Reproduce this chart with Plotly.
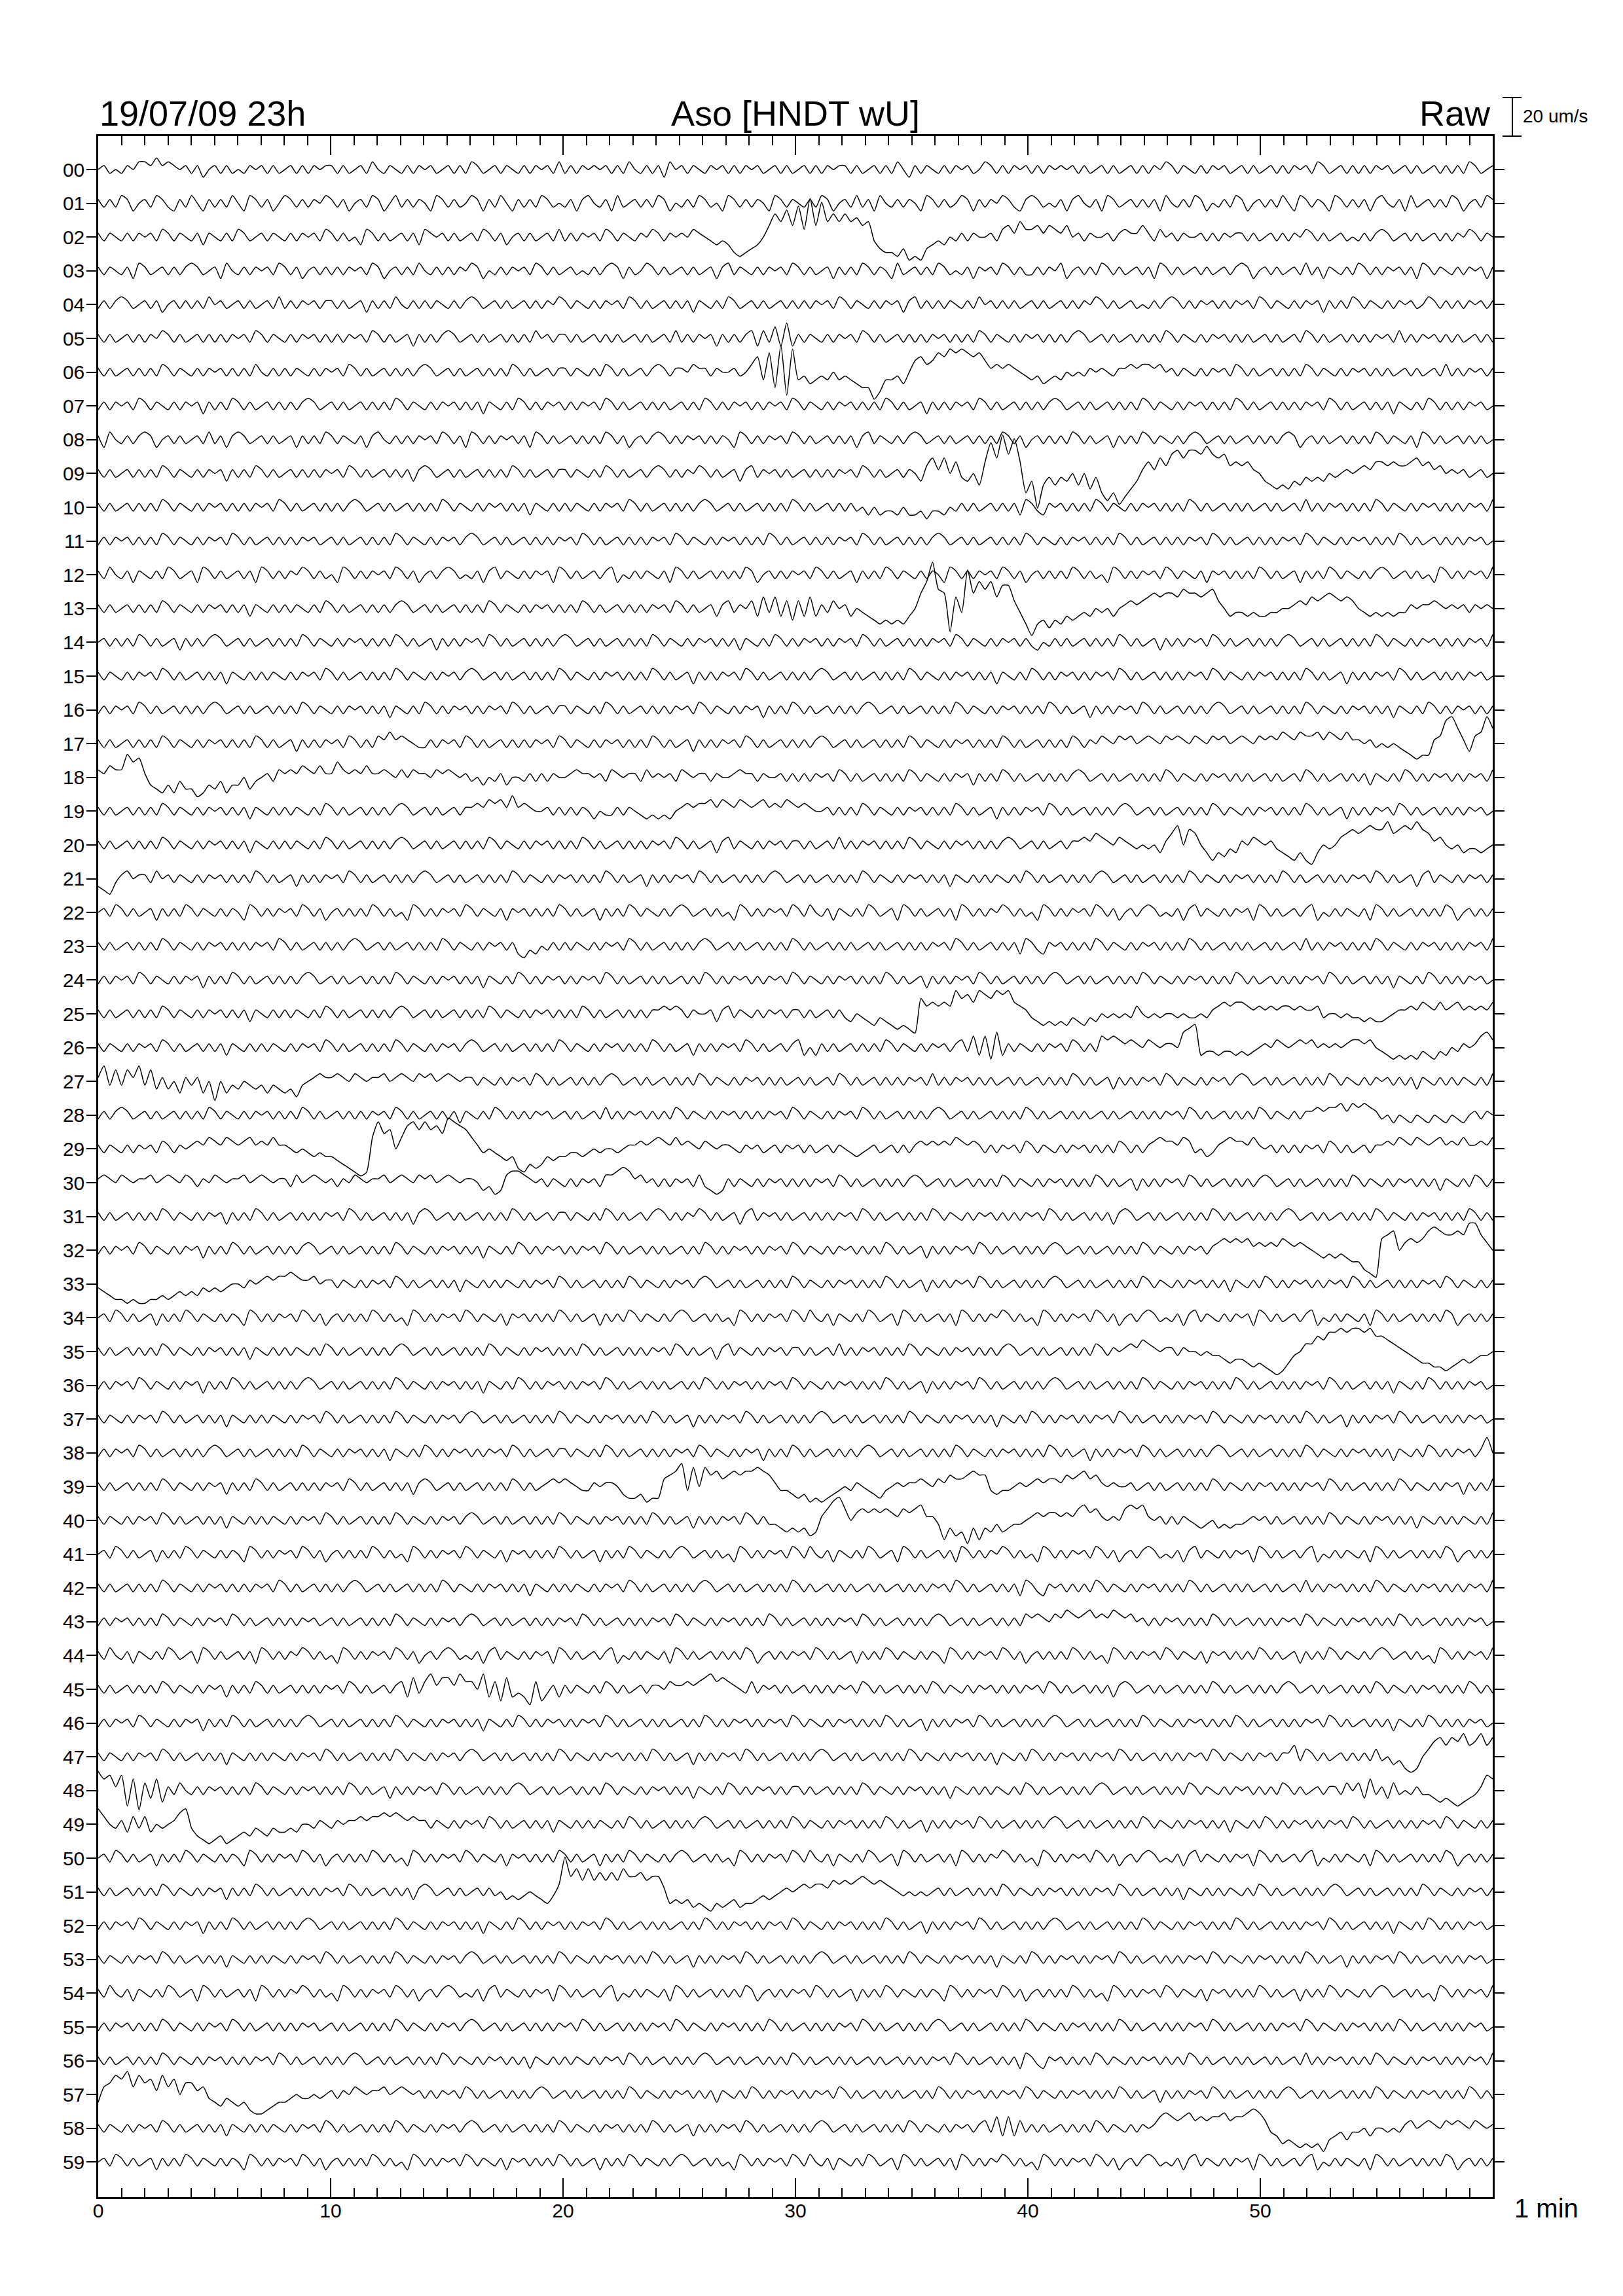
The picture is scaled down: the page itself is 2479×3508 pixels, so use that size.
import plotly.graph_objects as go

# ---------------- data ----------------
# One helicorder row per minute-of-hour (00..59); x runs over 60 minutes.
# Each row: 60 groups (one per minute) of 4 readings (every 15 s).
# Letter code: 'm' = row zero line, each letter step = STEP_UM um/s (n=+1, l=-1, o=+2, k=-2, ...)
STEP_UM = 2.0
SCALE_UM = 20
ROW_LABELS = [f"{i:02d}" for i in range(60)]
X_TICKS = [0, 10, 20, 30, 40, 50]

T00 = ("mnlm lnmo onpn onmn lnkm nlnl mlnm nlnl mnln lnmn",
       "nlnl mnlo mlnm lnln mnlm nlnl onlm nlnm lnln mnlo",
       "lnln mnmn lnlo mlnl nkom nlnm lnmn lnln mnlm nlnl",
       "mnln lnmn nlnl mnln lomk nlnm lnln mnlm onln lnmn",
       "lnln mnmn lnlm nlnl mnln lnmo nlnm lnln mnlm nlnl",
       "mnln lnmn lonl mnln lnln mnlm nlnl mnln lnlo nlmn")
T01 = ("nlnl onkm nlon lknl omkn lnlo mkon lnkm onln lnmo",
       "nlnk mnlo nkmo lnln mkon lnlm onkn lomk nlnl onlm",
       "lnkn omln kolm nlnl onkm lnlo nlmk onln lnmk onln",
       "mlnl onkm nlol nkom lnln mkon lnlm onkn lnmo nlkn",
       "onlm lnkn omln konl mnln lnko mlnl onkm lnlo nkmn",
       "lnlo mkon lnmk onln lnkn omln kolm nlnl onkm nlon")
T02 = ("nlnm lnln mnlo nlnm lnkn mlnl onlm nlnm lnln mnlo",
       "nlnl mkon lnlm nlnk onmn lnlm nlon lnkm nlnl mnlo",
       "lnln mnlo nlnm lnmo nlnm nmon mlkl kihi jkmp sqtp",
       "uowp vqsq sqrp qlji ihjg hgjk lkml nlnm mnlo pnqo",
       "opnp onpm nlnm mnln onnp nlom nlnm mnln lnmn nlnl",
       "mnln lnmo nlnl mnlm lnln onlm nlnl mnln lnmo nlnm")
T03 = ("nlnm lnko nlmn lnln onlm nkom lnln mnlo nlnk mnln",
       "lnln mnlo nkmn lnlo mlnl nlnm onkm lnln mnlo nlnl",
       "mnlm lnln onkn lmon lnlm nlnl mnkn olnm lnln mnlo",
       "nlnl mnkn lnlo nlnm kolm nlnl onlm lnkn mnlo nlnl",
       "lnln mokm nlnl onln lmnl nkon lnlm nlnl mnln onkm",
       "nlnl mnlo lnkn mlnl onln lnmn lnko nlnm lnln mnkn")
T04 = ("lnln onlm nlnk mnln lnlo mnlm nlnl mnlo lnln mnln",
       "nlnl mnkn lnlo mlnl nlnm lnln onlm nlnl mnln lnmo",
       "nlnm lnln mnlo nlnl mnln lnkn mlnl onlm nlnl mnln",
       "lnln mnlo nlnm lnln mnkn olnl nlnm lnlo mnln lnlm",
       "nlnl mnln lnmo nlnl mnlm lnln onln lnmn lnln mnlo",
       "nlnm lnln mnkn lnlo nlnm lnln mnlm onln lnln mnln")
T05 = ("nlnl mnln lnmo nlnl mnln lnln mnlo nlnm lnln mnln",
       "lnln mnlo nlnl mnkn lnln onlm nlnl mnln lnlo mnln",
       "nlnl mnln lnlm nlnl mnlo lnln mnkn lnln okol pkqk",
       "nlnm lnln mnlo nlnl mnln lnln mnln lnlo nlnm lnln",
       "mnln lnln onlm nlnl mnln lnlo nlnm lnln mnln lnlm",
       "nlnl mnlo nlnl mnln lnln mnlo lnln mnln lnlm nlnl")
T06 = ("nlnl mnln lnlo nlnm lnln mnln lnlo mlnl nlnm lnln",
       "mnlo nlnl mnln lnln onlm nlnl mnln lnlo nlnl mnln",
       "nlnm lnlo nlnl mnln onln nmon nlnm mnlm oqkr itgs",
       "kljk lkmk lkji ifhk kljm pqop rqsr srqr pnon onml",
       "kljk lkml mlnm nmln nono onom nlnm lnln mnlo nlnl",
       "mnln lnlo nlnm lnln mnln lnlm nlnl mnlo lnln mnln")
T07 = ("lnln mnlo nlnm lnln mnkn lnlo nlnl mnln lnln onlm",
       "nlnl mnln lnlo nlnm lnln mnln lnkn mlnl onln lnmn",
       "lnln mnlo nlnl mnln lnlm nlnl onln lnmn lnln mnlo",
       "nlnm lnln mnln lnlo nlnl mnkn lnln mnlo nlnl mnln",
       "lnln onlm nlnl mnln lnlo nlnm lnln mnln lnlo nlnl",
       "mnln lnln mnlo nlnl mnln lnkn mlnl onln lnln mnlm")
T08 = ("nkom lnln onkm nlnl mnlo lnkn onlm nlnl mnkn lnlo",
       "nlnm lnkn omln lnln mnlo nlnk onln lnmn lnko nlnl",
       "mnln lnlo nlnk mnln onln lnmn lnln mkon lnln mnlo",
       "nlnl mnln lnkn olnm lnln onlm nlnl mnln lnlo nlnk",
       "mnln lnlo nlnl mnkn lnlo nlnm lnln onlm nlnl mnln",
       "lnln onkm nlnl mnln lnlo nlnm lnko nlnl mnln lnlm")
T09 = ("nlnl mnln lnlo nlnm lnln mnkn lnlo nlnl mnln lnln",
       "mnlo nlnl mnln lnkn onlm nlnl mnln lnlo nlnl mnln",
       "nlnm lnlo nlnl mnln onln lnmo nlnl mnkn olnm nlnl",
       "mnln lnln mnlo nlnl mnln mkoq nqmp lkmj puqw rvph",
       "kdjl jlkm jmil hfhe gikn pnqo rsqs srtr qrop opnm",
       "kjij ikjl klkm lmnm nonp popo opqo pnom nmnl mnlm")
T10 = ("nlnl mnln lnlo nlnm lnln mnln lnln mnlo nlnl mnln",
       "lnln onlm nlnl mnln lnlo nlnm lnln mnln lnkn mlnl",
       "nlnm lnln mnlo nlnl mnln lnln onlm nlnl mnln lnlo",
       "nlnl mnln lnlm kmkl lkmk kljl lkml nlnl mnln lnko",
       "nlkn mnln lnlo nlnm lnln mnln lnlo nlnl mnln lnlm",
       "nlnl mnlo lnln mnln lnlo nlnm lnln mnln lnln mnlo")
T11 = ("lnln mnln lnlo nlnm lnln mnlo nlnl mnln lnln mnlm",
       "nlnl mnln lnlo nlnm lnln mnln onlm nlnl mnln lnln",
       "mnlo nlnl mnln lnln mnlo nlnm lnln mnln lnlo nlnl",
       "mnln lnln mnlo nlnl mnln lnln onlm nlnl mnln lnlo",
       "nlnm lnln mnln lnlo nlnl mnln lnln mnlo nlnl mnln",
       "lnln mnlo nlnm lnln mnln lnlo nlnl mnln lnln mnlm")
T12 = ("nlom lnkn mlnl onlm nkon lnlm nlnk onln lnmo nlnl",
       "mkon lnln mnlo nlnk mnln onlm lnkn olnm lnln mnko",
       "nlnl mnln okml nlnm lnko nlnl mnln lnlo nkmn lnln",
       "mnlo nlnl mnkn lnlo nlnm lnln mkon lnln mnlo nlnk",
       "mnln lnlo nlnl mkon lnln mnlo nlnm lnkn mnln lnlo",
       "nlnl mnkn lnlo nlnm lnln onlm nlnl mkon lnln mnlo")
T13 = ("nlnl mnln lnlo nlnm lnln mnln lnkn mlnl nlnm lnlo",
       "nlnl mnln lnln onlm nlnl mnln lnlo nlnm lnln mnln",
       "lnlo nlnl mnln lnln mnlo nlnl mnkn olnm okpl pkoj",
       "okpk nlom nkml kjij ijik mqty rqgp lwqt rtps soli",
       "fijh jikj klkm lmkm nono pqpq qprq qpqr omkl lklk",
       "kllm mnon popq popo mlkl klkl lnmn nonm nmnl nmnm")
T14 = ("mnln lnlo nlnl mnkn lnln onlm nlnl mnln lnlo nlnm",
       "lnln mnln lnlo nlnl mnkn lnln mnlo nlnl mnln lnln",
       "onlm nlnl mnln lnlo nlnm lnln mnln lnkn mlnl onln",
       "lnmn lnln mnlo nlnl mnln lnln mnlo nlnm lnln mnln",
       "lkml nlnl mnln lnlo nlnl mnkn lnln mnlo nlnl mnln",
       "lnln onlm nlnl mnln lnlo nlnm lnln mnln lnln mnlo")
T15 = ("nlnm lnln mnlo nlnl mnln lnkn mlnl nlnm lnln mnlo",
       "nlnl mnln lnlo nlnm lnln mnln onlm nlnl mnln lnlo",
       "nlnm lnln mnln lnlo nlnl mnkn lnln mnlo nlnl mnln",
       "lnln onlm nlnl mnln lnlo nlnm lnln mnln lnkn mlnl",
       "onln lnmn lnln mnlo nlnl mnln lnln mnlo nlnm lnln",
       "mnln lnlo nlnl mnkn lnln mnlo nlnl mnln lnln mnlm")
T16 = ("lnln mnlo nlnl mnln lnln onlm nlnl mnln lnlo nlnm",
       "lnln mnln lnkn mlnl onln lnmn lnln mnlo nlnl mnln",
       "nlnm lnlo nlnl mnln lnln mnlo nlnm lnln mnkn lnlo",
       "nlnl mnln lnln onlm nlnl mnln lnlo nlnm lnln mnln",
       "lnlo nlnl mnkn lnln mnlo nlnl mnln lnln onlm nlnl",
       "mnln lnlo nlnm lnln mnln lnkn mlnl onln lnmn lnln")
T17 = ("nlnl mnln lnlo nlnm lnln mnln lnlo nlnl mnkn lnln",
       "mnlo nlnl onpn onml lnln mnlo nlnl mnln lnln mnlo",
       "nlnm lnln mnln lnlo nlnl mnkn lnln mnlo nlnl mnln",
       "lnln onlm nlnl mnln lnlo nlnm lnln mnln lnlo nlnl",
       "mnln lnlo nlnm onmo nomn onmo nonm onmo nomn onmo",
       "nonp onpo opnp onpn nmnl mlml kjij jnos tqnk optq")
T18 = ("onpo osqr nkji kilj jhik jlik kmjl mnlo nonp onpn",
       "nqon onpn nonm omon nmon onmn lmkm lnkm mlnl nlnm",
       "mnon nmnl onmn nlom nmnl onmn nlnm mnon nlnm mnln",
       "lnln mnlo nlnl mnln lnlo nlnm lnln mnkn lnlo nlnl",
       "mnln lnln onlm nlnl mnln lnlo nlnm lnln mnln lnlm",
       "nlnl mnlo nlnl mnln lnkn mlnl onln lnmn lnln mnlo")
T19 = ("nlnl mnln lnlo nlnm lnln mnln lnkn mlnl nlnm lnlo",
       "nlnl mnln lnln onlm nlnl mnln nonp opnq nonm mnln",
       "lnln mkml lnln mlkl klkm nono opnp onpo nopn onpo",
       "nonm mnln lnlo nlnm lnln mnln lnlo nlnl mnkn lnln",
       "mnlo nlnl mnln lnln onlm nlnl mnln lnlo nlnm lnln",
       "mnln lnlo nlnl mnkn lnln mnlo nlnl mnln lnln mnlm")
T20 = ("nlnl mnln lnlo nlnm lnln mnln lnkn mlnl nlnm lnlo",
       "nlnl mnln lnln onlm nlnl mnln lnlo nlnm lnln mnln",
       "lnlo nlnl mnln lnln mnlo nlnl mnkn olnm lnln mnln",
       "nlnl mnlo lnln mnln lnlo nlnm lnln mnln lnln onlm",
       "nlnl mnln nonp onmo nmlm lmkn prmq pmki kjlk nmon",
       "mnlk jiki hkml mopq pqrq qspq rqsq pnom lmkl lklm")
T21 = ("kjil nomn nlom nlnm lnln mnln lnlo nlnl mnkn lnln",
       "mnlo nlnl mnln lnln onlm nlnl mnln lnlo nlnm lnln",
       "mnln lnlo nlnl mnkn lnln mnlo nlnl mnln lnln onlm",
       "nlnl mnln lnlo nlnm lnln mnln lnkn mlnl nlnm lnlo",
       "nlnl mnln lnln onlm nlnl mnln lnlo nlnm lnln mnln",
       "lnlo nlnl mnln lnln mnlo nlnl mnkn olnm lnln mnln")
T22 = ("mnlo nlnl mnkn lnlo nlnm lnln mkon lnln mnlo nlnk",
       "mnln lnlo nlnl mkon lnln mnlo nlnm lnkn mnln lnlo",
       "nlnl mnkn lnlo nlnm lnln onlm nlnl mkon lnln mnlo",
       "nlom lnkn mlnl onlm nkon lnlm nlnk onln lnmo nlnl",
       "mkon lnln mnlo nlnk mnln onlm lnkn olnm lnln mnko",
       "nlnl mnln okml nlnm lnko nlnl mnln lnlo nkmn lnln")
T23 = ("nlnl mnln lnlo nlnm lnln mnln lnln mnlo nlnl mnln",
       "lnln onlm nlnl mnln lnlo nlnm lnln mnln kjlk mlnl",
       "nlnm lnln mnlo nlnl mnln lnln onlm nlnl mnln lnlo",
       "nlnl mnln lnlm nlnl mnln lnln mnlo nlnl mnln lnko",
       "nlkn mnln lnlo nlnm lnln mnln lnlo nlnl mnln lnlm",
       "nlnl mnlo lnln mnln lnlo nlnm lnln mnln lnln mnlo")
T24 = ("lnln mnlo nlnm lnln mnkn lnlo nlnl mnln lnln onlm",
       "nlnl mnln lnlo nlnm lnln mnln lnkn mlnl onln lnmn",
       "lnln mnlo nlnl mnln lnlm nlnl onln lnmn lnln mnlo",
       "nlnm lnln mnln lnlo nlnl mnkn lnln mnlo nlnl mnln",
       "lnln onlm nlnl mnln lnlo nlnm lnln mnln lnlo nlnl",
       "mnln lnln mnlo nlnl mnln lnkn mlnl onln lnln mnlm")
T25 = ("nlnl mnln lnlo nlnm lnln mnln lnkn mlnl nlnm lnlo",
       "nlnl mnln lnln onlm nlnl mnln lnlo nlnm lnln mnln",
       "lnlo nlnl mnln lnln nono nlnm mnkn olnm lnln mnln",
       "nlnl mnln lkml kjlk jiji hqop opos qrps rqsr spon",
       "lkjk jkjl kjlk mlml mlom lmlm mlml lmln opop pono",
       "nono onon nolm mlml lklk klmn nonp onpn opno nonp")
T26 = ("nlnm lnln mnlo nlnl mnln lnkn mlnl nlnm lnln mnlo",
       "nlnl mnln lnlo nlnm lnln mnln onlm nlnl mnln lnlo",
       "nlnm lnln mnln lnlo nlnl mnkn lnln mnlo nlnl mnln",
       "okmk nlnl mnln lnlo nlnm lnln mnln olpk pjqk nlnm",
       "lnln mnlo nlnl popo nonm onmn nmqr skll kllk lklm",
       "nmon mnon omnm nmno onom lkjk jkjl kjlk mlnm npqo")
T27 = ("nqlp lpnq lpkn kmjn lnjm hmjl kmlk ljlk jkil mnon",
       "nonm onmn nomn onmo nomn onmn nlnm lnln mnlo nlnl",
       "mnln lnln onlm nlnl mnln lnlo nlnm lnln mnln lnlm",
       "nlnl mnlo nlnl mnln lnln mnlo lnln mnln lnlm nlnl",
       "mnln lnlo nlnl mnkn lnln mnlo nlnm lnln mnln onlm",
       "nlnl mnln lnlo nlnm lnln mnln lnkn mlnl nlnm lnlo")
T28 = ("lnln onlm nlnl mnln lnlo nlnm lnln mnln lnlo nlnl",
       "mnln lnln mnlo nlnl mnln lnkn mlnl onln lnln mnlm",
       "nlnl mnlo lnln mnln lnlo nlnm lnln mnln lnln mnlo",
       "nlnm lnln mnlo nlnl mnln lnln onlm nlnl mnln lnlo",
       "nlnl mnln lnlm nlnl mnln lnln mnlo nlnl mnln lnlo",
       "nlnm lnln nono opnp opon lmkm lkml kmlk mlkm nlnm")
T29 = ("nlnm lnln mnlo nlnm nonp onpo nopn onpn nmlm lklk",
       "kjih gfgp tqrm pstr trsq utsr pnlm lkjk hgih ikjk",
       "kllk lmlm mlmn nono ponp nonm onmn nmln mnlm nlnm",
       "nlnl mnln mlkl mnlm nlnl nono nonp onon lnln mnlo",
       "nlnm lnln mnln lnlo nlnl nopo onpo lmkl nopo onpn",
       "mnln lnln mnlo nlnl mnln nonp onpo nopn onpn nonp")
T30 = ("nonm onmn nomn onmo nlnm onmn nomn onmn nlom nonm",
       "nlnm onmn nomn onmo nomn onmn nmkl jkop ponm nlnm",
       "lnln mnlo opqp nomn lnln mnlo lkjk nlnm lnln mnln",
       "lnln mnlo nlnl mnln lnln onlm nlnl mnln lnlo nlnm",
       "lnln mnln lnlo nlnl mnkn lnln mnlo nlnl mnln lnln",
       "onlm nlnl mnln lnlo nlnm lnln mnln lnkn mlnl onln")
T31 = ("nlnl mnln lnlo nlnm lnln mnkn lnlo nlnl mnln lnln",
       "mnlo nlnl mnln lnkn onlm nlnl mnln lnlo nlnl mnln",
       "nlnm lnlo nlnl mnln onln lnmo nlnl mnkn olnm nlnl",
       "mnln lnln mnlo nlnl mnln lnlo nlnm lnln mnln lnln",
       "mnlo nlnl mnln lnkn onlm nlnl mnln lnlo nlnl mnln",
       "lnln onlm nlnl mnln lnlo nlnm lnln mnln lnlo nlnl")
T32 = ("lnln mnlo nlnm lnln mnkn lnlo nlnl mnln lnln onlm",
       "nlnl mnln lnlo nlnm lnln mnln lnkn mlnl onln lnmn",
       "lnln mnlo nlnl mnln lnlm nlnl onln lnmn lnln mnlo",
       "nlnm lnln mnln lnlo nlnl mnkn lnln mnlo nlnl mnln",
       "lnln onlm nlnl mnln lnlo nlnm lnln mnln opop opno",
       "nonp onon mlkl klkj jhgf pqrm opop rsrq qrqt tqom")
T33 = ("lkji ihih hiij ijkj kjlk lklm mlnm nono opon nomn",
       "nlnm lnln mnlo nlnl mnln lnkn mlnl nlnm lnln mnlo",
       "nlnl mnln lnlo nlnm lnln mnln onlm nlnl mnln lnlo",
       "nlnm lnln mnln lnlo nlnl mnkn lnln mnlo nlnl mnln",
       "lnln onlm nlnl mnln lnlo nlnm lnln mnln lnkn mlnl",
       "onln lnmn lnln mnlo nlnl mnln lnln mnlo nlnm lnln")
T34 = ("mnlo nlnl mnkn lnlo nlnm lnln mkon lnln mnlo nlnk",
       "mnln lnlo nlnl mkon lnln mnlo nlnm lnkn mnln lnlo",
       "nlnl mnkn lnlo nlnm lnln onlm nlnl mkon lnln mnlo",
       "nlom lnkn mlnl onlm nkon lnlm nlnk onln lnmo nlnl",
       "mkon lnln mnlo nlnk mnln onlm lnkn olnm lnln mnko",
       "nlnl mnln okml nlnm lnko nlnl mnln lnlo nkmn lnln")
T35 = ("nlnl mnln lnlo nlnm lnln mnln lnkn mlnl nlnm lnlo",
       "nlnl mnln lnln onlm nlnl mnln lnlo nlnm lnln mnln",
       "lnlo nlnl mnln lnln mnlo nlnl mnkn olnm lnln mnln",
       "nlnl mnlo lnln mnln lnlo nlnm lnln mnln lnln onlm",
       "nlnl mnln lnlo nlnm nonp onmn nlnm mlml lkjk kjij",
       "ihgh jlmo oqpr rsrs srsq qpon mlkj jiih ijkj kllm")
T36 = ("lnln mnlo nlnm lnln mnkn lnlo nlnl mnln lnln onlm",
       "nlnl mnln lnlo nlnm lnln mnln lnkn mlnl onln lnmn",
       "lnln mnlo nlnl mnln lnlm nlnl onln lnmn lnln mnlo",
       "nlnm lnln mnln lnlo nlnl mnkn lnln mnlo nlnl mnln",
       "lnln onlm nlnl mnln lnlo nlnm lnln mnln lnlo nlnl",
       "mnln lnln mnlo nlnl mnln lnkn mlnl onln lnln mnlm")
T37 = ("nlnm lnln mnlo nlnl mnln lnkn mlnl nlnm lnln mnlo",
       "nlnl mnln lnlo nlnm lnln mnln onlm nlnl mnln lnlo",
       "nlnm lnln mnln lnlo nlnl mnkn lnln mnlo nlnl mnln",
       "lnln onlm nlnl mnln lnlo nlnm lnln mnln lnkn mlnl",
       "onln lnmn lnln mnlo nlnl mnln lnln mnlo nlnm lnln",
       "mnln lnlo nlnl mnkn lnln mnlo nlnl mnln lnln mnlm")
T38 = ("lnln mnlo nlnl mnln lnln onlm nlnl mnln lnlo nlnm",
       "lnln mnln lnkn mlnl onln lnmn lnln mnlo nlnl mnln",
       "nlnm lnlo nlnl mnln lnln mnlo nlnm lnln mnkn lnlo",
       "nlnl mnln lnln onlm nlnl mnln lnlo nlnm lnln mnln",
       "lnlo nlnl mnkn lnln mnlo nlnl mnln lnln onlm nlnl",
       "mnln lnlo nlnm lnln mnln lnkn mlnl onln lnmn lnqm")
T39 = ("nlnl mnln lnlo nlnm lnln mnkn lnlo nlnl mnln lnln",
       "mnlo nlnl mnln lnkn onlm nlnl mnln lnlo nlnl mnon",
       "onml lnmn nmkj jkij jopq slrm rpqo pqpq qrqp nllk",
       "jkij ijkl mlnm lkjl mnmn nonm onpo opqp plkl lmnm",
       "nono onpo pqop nmnm mnlm nlnl mnln lnlo nlnm lnln",
       "mnln lnln mnlo nlnl mnln lnlo nlnm lnln mnkn lnlo")
T40 = ("nlnm lnln mnlo nlnl mnln lnkn mlnl nlnm lnln mnlo",
       "nlnl mnln lnlo nlnm lnln mnln onlm nlnl mnln lnlo",
       "nlnm lnln mnln lnlo nlnl mnkn lnln mnlo nlnl lkjk",
       "jkij nprs pmop opop onpo pqnn lhki jgkh kjlj kllm",
       "nono onon pqop nmnm pqpq nmnl nlnm lklm klkl lmnm",
       "nlnl mnln lnlo nlnm lnln mnln lnkn mlnl nlnm lnlo")
T41 = ("mnlo nlnl mnkn lnlo nlnm lnln mkon lnln mnlo nlnk",
       "mnln lnlo nlnl mkon lnln mnlo nlnm lnkn mnln lnlo",
       "nlnl mnkn lnlo nlnm lnln onlm nlnl mkon lnln mnlo",
       "nlom lnkn mlnl onlm nkon lnlm nlnk onln lnmo nlnl",
       "mkon lnln mnlo nlnk mnln onlm lnkn olnm lnln mnko",
       "nlnl mnln okml nlnm lnko nlnl mnln lnlo nkmn lnln")
T42 = ("nlnl mnln lnlo nlnm lnln mnln lnln mnlo nlnl mnln",
       "lnln onlm nlnl mnln lnlo nlnm lnln mnln lnkn mlnl",
       "nlnm lnln mnlo nlnl mnln lnln onlm nlnl mnln lnlo",
       "nlnl mnln lnlm nlnl mnln lnln mnlo nlnl mnln lnko",
       "nlkn mnln lnlo nlnm lnln mnln lnlo nlnl mnln lnlm",
       "nlnl mnlo lnln mnln lnlo nlnm lnln mnln lnln mnlo")
T43 = ("lnln mnln lnlo nlnm lnln mnlo nlnl mnln lnln mnlm",
       "nlnl mnln lnlo nlnm lnln mnln onlm nlnl mnln lnln",
       "mnlo nlnl mnln lnln mnlo nlnm lnln mnln lnlo nlnl",
       "mnln lnln mnlo nlnl mnln lnln onlm nlnl mnln lnlo",
       "nonm onpo nopn onpo nomn lnln mnln lnlo nlnl mnln",
       "lnln mnlo nlnm lnln mnln lnlo nlnl mnln lnln mnlm")
T44 = ("nlom lnkn mlnl onlm nkon lnlm nlnk onln lnmo nlnl",
       "mkon lnln mnlo nlnk mnln onlm lnkn olnm lnln mnko",
       "nlnl mnln okml nlnm lnko nlnl mnln lnlo nkmn lnln",
       "mnlo nlnl mnkn lnlo nlnm lnln mkon lnln mnlo nlnk",
       "mnln lnlo nlnl mkon lnln mnlo nlnm lnkn mnln lnlo",
       "nlnl mnkn lnlo nlnm lnln onlm nlnl mkon lnln mnlo")
T45 = ("nlnl mnln lnlo nlnm lnln mnkn lnlo nlnl mnln lnln",
       "mnlo nlnl mnln okpl oqnp pnqo omqk ojpk lkio jlnk",
       "nlnm lnlo nlnl mnln nmon nono pqop onml olnm nlnl",
       "mnln lnln mnlo nlnl mnln lnlo nlnm lnln mnln lnln",
       "mnlo nlnl mnln lnkn onlm nlnl mnln lnlo nlnl mnln",
       "lnln onlm nlnl mnln lnlo nlnm lnln mnln lnlo nlnl")
T46 = ("lnln mnlo nlnm lnln mnkn lnlo nlnl mnln lnln onlm",
       "nlnl mnln lnlo nlnm lnln mnln lnkn mlnl onln lnmn",
       "lnln mnlo nlnl mnln lnlm nlnl onln lnmn lnln mnlo",
       "nlnm lnln mnln lnlo nlnl mnkn lnln mnlo nlnl mnln",
       "lnln onlm nlnl mnln lnlo nlnm lnln mnln lnlo nlnl",
       "mnln lnln mnlo nlnl mnln lnkn mlnl onln lnln mnlm")
T47 = ("nlnm lnln mnlo nlnl mnln lnkn mlnl nlnm lnln mnlo",
       "nlnl mnln lnlo nlnm lnln mnln onlm nlnl mnln lnlo",
       "nlnm lnln mnln lnlo nlnl mnkn lnln mnlo nlnl mnln",
       "lnln onlm nlnl mnln lnlo nlnm lnln mnln lnkn mlnl",
       "onln lnmn lnln mnlo nlnl mnln lnln mnlo nlnm lnln",
       "mnln nplo nlnl mnln lnlo lmkl jijm oqrp rqsp qspr")
T48 = ("rpqn qiph okpj nlom lnln mnln lnlo nlnm lnln mnln",
       "lnlo nlnl mnkn lnln mnlo nlnl mnln lnln onlm nlnl",
       "mnln lnlo nlnm lnln mnln lnkn mlnl onln lnmn lnln",
       "nlnl mnln lnlo nlnm lnln mnln lnkn mlnl nlnm lnlo",
       "nlnl mnln lnln onlm nlnl mnln lnlo nlnm lnln mnln",
       "lnlo nlnl mnln nlom okpl nkol mlnl lkjk jijk lnqp")
T49 = ("qoml nkol okml mnpq ljih ijhi jkjl kjlk klkm mlnm",
       "lnmn nono opop onon nlnm lnln mnlo nlnl mnln lnkn",
       "mlnl nlnm lnlo nlnl mnln lnln onlm nlnl mnln lnlo",
       "nlnm lnln mnln lnlo nlnl mnkn lnln mnlo nlnl mnln",
       "lnln onlm nlnl mnln lnlo nlnm lnln mnln lnkn mlnl",
       "onln lnmn lnln mnlo nlnl mnln lnln mnlo nlnm lnln")
T50 = ("mnlo nlnl mnkn lnlo nlnm lnln mkon lnln mnlo nlnk",
       "mnln lnlo nlnl mkon lnln mnlo nlnm lnkn mnln lnlo",
       "nlnl mnkn lnlo nlnm lnln onlm nlnl mkon lnln mnlo",
       "nlom lnkn mlnl onlm nkon lnlm nlnk onln lnmo nlnl",
       "mkon lnln mnlo nlnk mnln onlm lnkn olnm lnln mnko",
       "nlnl mnln okml nlnm lnko nlnl mnln lnlo nkmn lnln")
T51 = ("nlnl mnln lnlo nlnm lnln mnkn lnlo nlnl mnln lnln",
       "mnlo nlnl mnln lnkn onlm nlnl mnln lmkl klml kjlo",
       "vqsp sprp rpsq qrpq qnjk jkij ihji jkij jklk lmnm",
       "nono onpo popq popo nmlm lmlm nlnl mnln lnlo nlnm",
       "lnln mnln lnln mnlo nlnl mnln lnkn mlnl nlnm lnlo",
       "nlnl mnln lnln onlm nlnl mnln lnlo nlnm lnln mnln")
T52 = ("lnln mnlo nlnm lnln mnkn lnlo nlnl mnln lnln onlm",
       "nlnl mnln lnlo nlnm lnln mnln lnkn mlnl onln lnmn",
       "lnln mnlo nlnl mnln lnlm nlnl onln lnmn lnln mnlo",
       "nlnm lnln mnln lnlo nlnl mnkn lnln mnlo nlnl mnln",
       "lnln onlm nlnl mnln lnlo nlnm lnln mnln lnlo nlnl",
       "mnln lnln mnlo nlnl mnln lnkn mlnl onln lnln mnlm")
T53 = ("nlnm lnln mnlo nlnl mnln lnkn mlnl nlnm lnln mnlo",
       "nlnl mnln lnlo nlnm lnln mnln onlm nlnl mnln lnlo",
       "nlnm lnln mnln lnlo nlnl mnkn lnln mnlo nlnl mnln",
       "lnln onlm nlnl mnln lnlo nlnm lnln mnln lnkn mlnl",
       "onln lnmn lnln mnlo nlnl mnln lnln mnlo nlnm lnln",
       "mnln lnlo nlnl mnkn lnln mnlo nlnl mnln lnln mnlm")
T54 = ("nlom lnkn mlnl onlm nkon lnlm nlnk onln lnmo nlnl",
       "mkon lnln mnlo nlnk mnln onlm lnkn olnm lnln mnko",
       "nlnl mnln okml nlnm lnko nlnl mnln lnlo nkmn lnln",
       "mnlo nlnl mnkn lnlo nlnm lnln mkon lnln mnlo nlnk",
       "mnln lnlo nlnl mkon lnln mnlo nlnm lnkn mnln lnlo",
       "nlnl mnkn lnlo nlnm lnln onlm nlnl mkon lnln mnlo")
T55 = ("lnln mnln lnlo nlnm lnln mnlo nlnl mnln lnln mnlm",
       "nlnl mnln lnlo nlnm lnln mnln onlm nlnl mnln lnln",
       "mnlo nlnl mnln lnln mnlo nlnm lnln mnln lnlo nlnl",
       "mnln lnln mnlo nlnl mnln lnln onlm nlnl mnln lnlo",
       "nlnm lnln mnln lnlo nlnl mnln lnln mnlo nlnl mnln",
       "lnln mnlo nlnm lnln mnln lnlo nlnl mnln lnln mnlm")
T56 = ("nlnl mnln lnlo nlnm lnln mnln lnln mnlo nlnl mnln",
       "lnln onlm nlnl mnln lnlo nlnm lnln mnln lnkn mlnl",
       "nlnm lnln mnlo nlnl mnln lnln onlm nlnl mnln lnlo",
       "nlnl mnln lnlm nlnl mnln lnln mnlo nlnl mnln lnko",
       "nlkn mnln lnlo nlnm lnln mnln lnlo nlnl mnln lnlm",
       "nlnl mnlo lnln mnln lnlo nlnm lnln mnln lnln mnlo")
T57 = ("kopr qsor pqnr oqmp pnol kjlk jkih hijk klml lmlm",
       "nlnm onmn nomn onmn lnln mnlo nlnl mnln lnln onlm",
       "nlnl mnln lnlo nlnm lnln mnln lnkn mlnl onln lnmn",
       "lnln mnlo nlnl mnln lnlm nlnl onln lnmn lnln mnlo",
       "nlnm lnln mnln lnlo nlnl mnkn lnln mnlo nlnl mnln",
       "lnln onlm nlnl mnln lnlo nlnm lnln mnln lnlo nlnl")
T58 = ("nlnm lnln mnlo nlnl mnln lnkn mlnl nlnm lnln mnlo",
       "nlnl mnln lnlo nlnm lnln mnln onlm nlnl mnln lnlo",
       "nlnm lnln mnln lnlo nlnl mnkn lnln mnlo nlnl mnln",
       "lnln onlm nlnl mnln lnlo nlnm lnln mnln olpk pkol",
       "nlnl mnln lnlo nlnm lnln mnpq popq opop pqop pqrq",
       "olki jihi higj kljl lmkm mlml nomn onmo nonm onmn")
T59 = ("mnlo nlnl mnkn lnlo nlnm lnln mkon lnln mnlo nlnk",
       "mnln lnlo nlnl mkon lnln mnlo nlnm lnkn mnln lnlo",
       "nlnl mnkn lnlo nlnm lnln onlm nlnl mkon lnln mnlo",
       "nlom lnkn mlnl onlm nkon lnlm nlnk onln lnmo nlnl",
       "mkon lnln mnlo nlnk mnln onlm lnkn olnm lnln mnko",
       "nlnl mnln okml nlnm lnko nlnl mnln lnlo nkmn lnln")

TRACES = [T00, T01, T02, T03, T04, T05, T06, T07, T08, T09,
          T10, T11, T12, T13, T14, T15, T16, T17, T18, T19,
          T20, T21, T22, T23, T24, T25, T26, T27, T28, T29,
          T30, T31, T32, T33, T34, T35, T36, T37, T38, T39,
          T40, T41, T42, T43, T44, T45, T46, T47, T48, T49,
          T50, T51, T52, T53, T54, T55, T56, T57, T58, T59]


def decode(rows):
    """Turn the letter readings of one row into um/s values (one per 15 s)."""
    groups = " ".join(rows).split()
    vals = []
    for g in groups[:60]:
        g = (g + g[-1] * 4)[:4]
        vals.extend((ord(c) - ord("m")) * STEP_UM for c in g)
    while len(vals) < 240:
        vals.append(0.0)
    return vals


# ---------------- geometry / style ----------------
PAGE_W, PAGE_H = 2479, 3508
OFF = 8                                    # default body margin of the html page
W, H = PAGE_W - 2 * OFF, PAGE_H - 2 * OFF  # figure size so the page does not scroll
# frame and rows in page pixels (as measured on the reference)
PL, PR, PT, PB = 150, 2280, 208, 3357
ROW0_Y, ROW_PX = 259, 51.6
SCALE_BAR_PX = 59                          # length of the 20 um/s bar
UM_TO_ROW = SCALE_BAR_PX / SCALE_UM / ROW_PX
FONT = "Liberation Sans, Arial, Helvetica, sans-serif"

y_top = -(ROW0_Y - PT) / ROW_PX
y_bot = 59 + (PB - (ROW0_Y + 59 * ROW_PX)) / ROW_PX


def pxx(X):
    return (X - PL) / (PR - PL)


def pxy(Y):
    return (PB - Y) / (PB - PT)


fig = go.Figure()
for k, rows in enumerate(TRACES):
    v = decode(rows)
    n = len(v)
    xs = [i * 60.0 / (n - 1) for i in range(n)]
    ys = [k - val * UM_TO_ROW for val in v]
    fig.add_trace(go.Scatter(x=xs, y=ys, mode="lines",
                             line=dict(color="black", width=1.5, shape="spline", smoothing=0.6),
                             hoverinfo="skip", showlegend=False))

fig.update_xaxes(range=[0, 60], tickmode="array", tickvals=X_TICKS,
                 ticktext=[str(t) for t in X_TICKS],
                 ticks="inside", ticklen=29, tickwidth=2, tickcolor="black",
                 minor=dict(tickmode="array", tickvals=list(range(61)),
                            ticks="inside", ticklen=14, tickwidth=2,
                            tickcolor="black", showgrid=False),
                 showline=True, linewidth=2.5, linecolor="black", mirror="ticks",
                 showgrid=False, zeroline=False, ticklabelstandoff=-8,
                 tickfont=dict(family=FONT, size=30, color="black"))
fig.update_yaxes(range=[y_bot, y_top], tickmode="array",
                 tickvals=list(range(60)), ticktext=ROW_LABELS,
                 ticks="outside", ticklen=15, tickwidth=2, tickcolor="black",
                 showline=True, linewidth=2.5, linecolor="black", mirror="ticks",
                 showgrid=False, zeroline=False, ticklabelstandoff=-3,
                 tickfont=dict(family=FONT, size=30, color="black"))

ann = [
    dict(text="19/07/09 23h", x=pxx(150), y=pxy(173), xanchor="left", yanchor="middle", size=54),
    dict(text="Aso [HNDT wU]", x=0.5, y=pxy(173), xanchor="center", yanchor="middle", size=54),
    dict(text="Raw", x=pxx(2279), y=pxy(173), xanchor="right", yanchor="middle", size=54),
    dict(text="20 um/s", x=pxx(2324), y=pxy(177), xanchor="left", yanchor="middle", size=28),
    dict(text="1 min", x=pxx(2311), y=pxy(3374), xanchor="left", yanchor="middle", size=40),
]
for a in ann:
    fig.add_annotation(text=a["text"], x=a["x"], y=a["y"], xref="paper", yref="paper",
                       xanchor=a["xanchor"], yanchor=a["yanchor"], showarrow=False,
                       font=dict(family=FONT, size=a["size"], color="black"))

# 20 um/s scale bar above the right end of the frame
bar_x = 2310
bar_bottom = PT
bar_top = PT - SCALE_UM * UM_TO_ROW * ROW_PX
for (x0, y0, x1, y1) in [(bar_x, bar_top, bar_x, bar_bottom),
                         (bar_x - 15, bar_top, bar_x + 14, bar_top),
                         (bar_x - 15, bar_bottom, bar_x + 14, bar_bottom)]:
    fig.add_shape(type="line", xref="paper", yref="paper",
                  x0=pxx(x0), y0=pxy(y0), x1=pxx(x1), y1=pxy(y1),
                  line=dict(color="black", width=2))

fig.update_layout(width=W, height=H,
                  margin=dict(l=PL - OFF, r=W - (PR - OFF), t=PT - OFF, b=H - (PB - OFF), pad=0),
                  paper_bgcolor="white", plot_bgcolor="white",
                  showlegend=False)

fig.write_html("out.html")
